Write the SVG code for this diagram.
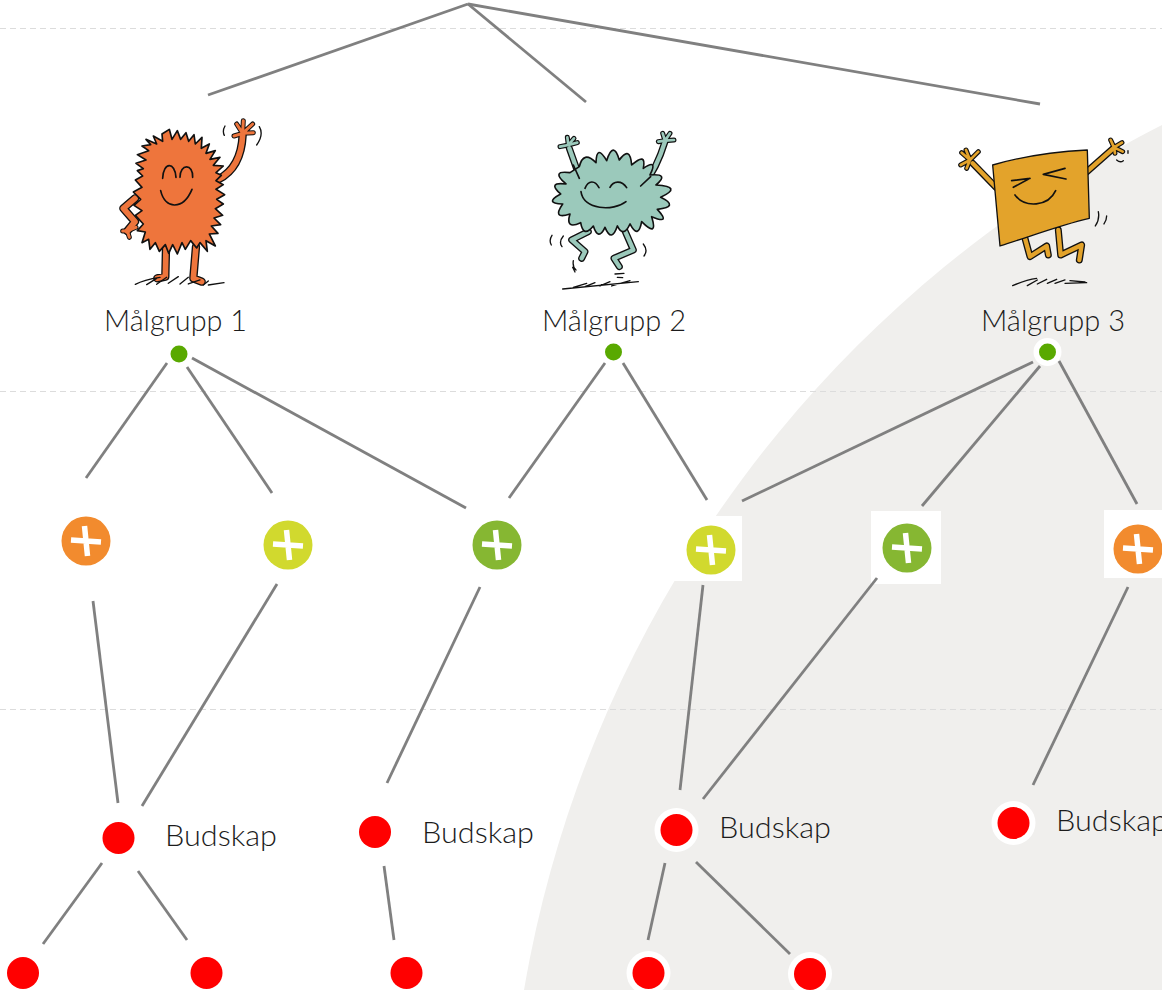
<svg xmlns="http://www.w3.org/2000/svg" xmlns:xlink="http://www.w3.org/1999/xlink" width="1162" height="990" viewBox="0 0 1162 990">
<style>
text{font-family:"Lato","Noto Sans","Liberation Sans",sans-serif;font-weight:300;font-size:30px;fill:#1c1c1c}
.guide{stroke:#dcdcdc;stroke-width:1.2;stroke-dasharray:6 4;fill:none}
#connectors line{stroke:#808080;stroke-width:2.8;stroke-linecap:butt}
.red{fill:#ff0000}.ring{fill:#fff}.dot{fill:#59a900}
.ink{fill:none;stroke:#111;stroke-width:5;stroke-linecap:round;stroke-linejoin:round}
.thin{stroke-width:4}
.limbO{fill:none;stroke:#111;stroke-width:25;stroke-linecap:round;stroke-linejoin:round}
.limbO2{fill:none;stroke:#111;stroke-width:21;stroke-linecap:round;stroke-linejoin:round}
.finO{fill:none;stroke:#111;stroke-width:15;stroke-linecap:round;stroke-linejoin:round}
.bodyline{stroke:#111;stroke-width:5;stroke-linejoin:round}
.plus{stroke:#fff;stroke-width:5.500;fill:none}
.soft{filter:url(#px)}
</style>
<defs>
<filter id="px" x="-10%" y="-10%" width="120%" height="120%"><feGaussianBlur stdDeviation=".7"/></filter>
<g id="plusmark"><path class="plus" d="M-15,-1 L15,1 M-1.5,-15 L1.5,15"/></g>
<g id="m1arms"><path d="M355,238 C400,215 425,170 428,105 M105,295 L70,325 L105,365 L82,393 M198,445 L196,530 L172,535 M288,440 L280,535 L305,545"/></g>
<g id="m1fingers"><path d="M428,100 L402,108 M428,100 L410,72 M428,100 L430,62 M428,100 L458,72 M428,100 L460,98 M82,393 L68,393 M82,393 L88,412 M82,393 L108,382"/></g>
<g id="m2arms"><path d="M150,205 L118,115 M340,225 C365,195 385,160 405,95 M175,365 L125,390 L165,425 L155,445 M275,340 L310,420 L252,445 L268,470"/></g>
<g id="m2fingers"><path d="M115,105 L90,110 M115,105 L112,82 M115,105 L132,85 M115,105 L142,98 M405,92 L385,95 M405,92 L398,70 M405,92 L420,70 M405,92 L432,90"/></g>
<g id="m3arms"><path d="M138,232 L68,160 M405,190 L490,115 M225,385 L240,440 L290,408 L295,435 M325,360 L332,435 L395,405 L388,450"/></g>
<g id="m3fingers"><path d="M60,150 L35,128 M60,150 L48,120 M60,150 L85,125 M60,150 L32,165 M60,150 L50,175 M492,112 L482,90 M492,112 L516,98 M492,112 L518,125 M492,112 L495,130"/></g>
</defs>
<rect width="1162" height="990" fill="#fff"/>
<circle id="backdrop" cx="1701.6" cy="1190.8" r="1194.6" fill="#f0efed"/>
<g id="guides">
<line class="guide" x1="0" y1="28.500" x2="1162" y2="28.500"/>
<line class="guide" x1="0" y1="391.500" x2="1162" y2="391.500"/>
<line class="guide" x1="0" y1="709.500" x2="1162" y2="709.500"/>
</g>
<g id="monster1" transform="translate(100 100) scale(.3333)">
<use href="#m1arms" class="limbO"/><use href="#m1fingers" class="finO"/>
<use href="#m1arms" fill="none" stroke="#ee753c" stroke-width="17" stroke-linecap="round" stroke-linejoin="round"/>
<use href="#m1fingers" fill="none" stroke="#ee753c" stroke-width="9" stroke-linecap="round"/>
<path class="bodyline" fill="#ee753c" d="M138,118 L170,132 L160,108 L188,124 L186,102 L208,88 L216,118 L232,92 L242,118 L258,98 L266,124 L282,104 L286,132 L306,112 L304,145 L328,132 L318,160 L346,152 L330,178 L360,172 L340,196 L370,198 L348,218 L364,226 L348,242 L370,254 L348,268 L374,284 L350,298 L370,312 L346,326 L368,346 L342,354 L362,374 L334,378 L354,400 L328,402 L346,438 L318,422 L322,454 L300,428 L290,444 L272,422 L256,448 L246,428 L232,462 L218,434 L206,460 L196,434 L178,454 L166,428 L150,448 L146,418 L126,428 L136,396 L112,392 L130,372 L106,346 L126,332 L102,316 L122,298 L100,276 L126,262 L106,240 L128,228 L112,212 L130,206 L108,190 L138,180 L112,164 L146,152 L126,138 L152,134 Z"/>
<path class="ink" d="M188,235 C190,185 225,185 228,232 M240,232 C240,190 280,190 278,232 M182,272 C195,330 250,330 276,268"/>
<path class="ink thin" d="M375,78 C368,90 370,100 373,106 M478,80 C490,100 482,118 470,135 M106,553 C130,540 160,535 180,532 M140,554 L170,535 M170,553 L200,532 M205,550 L235,530 M240,552 L265,532 M265,552 L300,540 M310,555 L325,543 M325,555 L372,548"/>
</g>
<g id="monster2" transform="translate(530 110) scale(.3333)">
<use href="#m2arms" class="limbO2"/><use href="#m2fingers" class="finO"/>
<use href="#m2arms" fill="none" stroke="#9bc9bb" stroke-width="13" stroke-linecap="round" stroke-linejoin="round"/>
<use href="#m2fingers" fill="none" stroke="#9bc9bb" stroke-width="8" stroke-linecap="round"/>
<path class="bodyline" fill="#9bc9bb" d="M148,170 Q160,120 198,158 Q200,100 230,152 Q250,90 268,150 Q300,105 305,165 Q350,125 340,175 Q385,145 360,195 Q420,190 378,225 Q460,230 392,262 Q450,290 382,298 Q425,345 365,320 Q385,385 335,335 Q325,390 300,342 Q280,385 262,348 Q245,400 225,352 Q205,395 190,348 Q160,385 152,338 Q105,360 120,312 Q65,330 98,282 Q40,280 92,252 Q50,215 108,222 Q60,180 120,188 Z"/>
<path class="ink" d="M165,235 C175,210 195,210 207,233 M240,232 C250,212 275,210 290,233 M153,245 C160,300 250,305 288,275"/>
<path class="ink" d="M130,165 L148,205 M332,228 L362,200"/>
<path class="ink thin" d="M66,376 C58,388 60,398 64,405 M100,378 C90,390 90,402 96,410 M130,452 C128,465 132,475 138,480 M128,472 L135,486 M340,402 C350,415 350,428 342,438 M255,492 L282,490 M262,502 L278,503 M98,537 L325,515 M130,532 L170,520 M165,530 L195,518 M210,528 L240,515 M245,528 L300,512"/>
</g>
<g id="monster3" transform="translate(950 110) scale(.3333)">
<use href="#m3arms" class="limbO2"/><use href="#m3fingers" class="finO"/>
<use href="#m3arms" fill="none" stroke="#e3a32b" stroke-width="13" stroke-linecap="round" stroke-linejoin="round"/>
<use href="#m3fingers" fill="none" stroke="#e3a32b" stroke-width="8" stroke-linecap="round"/>
<path fill="#e3a32b" stroke="#111" stroke-width="4" stroke-linejoin="round" d="M128,165 C220,138 320,125 412,120 L418,325 C330,345 240,380 150,408 Z"/>
<path class="ink" d="M240,205 L185,212 M240,205 L190,232 M280,193 L345,175 M280,193 L348,207 M195,255 C225,295 295,290 317,242"/>
<path class="ink thin" d="M445,305 C448,320 445,335 436,348 M470,318 C470,328 466,336 462,342 M500,150 C508,157 515,156 520,152 M534,122 L534,130 M188,527 C215,515 235,508 260,505 M232,527 L262,510 M262,522 L290,508 M292,520 L320,508 M315,520 L345,510 M345,520 L410,518 M360,512 L405,516"/>
</g>
<g id="label1"><text x="104" y="331" textLength="143" lengthAdjust="spacingAndGlyphs">Målgrupp 1</text></g>
<g id="label2"><text x="542" y="331" textLength="144" lengthAdjust="spacingAndGlyphs">Målgrupp 2</text></g>
<g id="label3"><text x="981" y="331" textLength="144" lengthAdjust="spacingAndGlyphs">Målgrupp 3</text></g>
<g id="dot1"><circle class="dot" cx="179" cy="354" r="8.500"/></g>
<g id="dot2"><circle class="dot" cx="613.500" cy="352" r="8.500"/></g>
<g id="dot3"><circle class="ring" cx="1047.500" cy="352" r="14"/><circle class="dot" cx="1047.500" cy="352" r="8.500"/></g>
<g id="plus1"><g class="soft"><circle cx="86" cy="541" r="24.500" fill="#f28b2d"/><use href="#plusmark" x="86" y="541"/></g></g>
<g id="plus2"><g class="soft"><circle cx="288" cy="545" r="24.500" fill="#d1d92e"/><use href="#plusmark" x="288" y="545"/></g></g>
<g id="plus3"><g class="soft"><circle cx="497" cy="545" r="24.500" fill="#86b733"/><use href="#plusmark" x="497" y="545"/></g></g>
<g id="plus4"><rect x="670" y="516" width="72" height="65" fill="#fff"/><g class="soft"><circle cx="711" cy="550" r="24.500" fill="#d1d92e"/><use href="#plusmark" x="711" y="550"/></g></g>
<g id="plus5"><rect x="871" y="511" width="70" height="73" fill="#fff"/><g class="soft"><circle cx="907" cy="548" r="24.500" fill="#86b733"/><use href="#plusmark" x="907" y="548"/></g></g>
<g id="plus6"><rect x="1104" y="510" width="58" height="68" fill="#fff"/><g class="soft"><circle cx="1138" cy="549" r="24.500" fill="#f28b2d"/><use href="#plusmark" x="1138" y="549"/></g></g>
<g id="connectors">
<line x1="468" y1="4" x2="208" y2="95"/><line x1="468" y1="4" x2="586" y2="102"/><line x1="468" y1="4" x2="1040" y2="104"/>
<line x1="167" y1="363" x2="86" y2="478"/><line x1="187" y1="367" x2="272" y2="493"/><line x1="192" y1="358" x2="466" y2="508"/>
<line x1="605" y1="363" x2="509" y2="498"/><line x1="623" y1="363" x2="707" y2="500"/>
<line x1="1033" y1="362" x2="742" y2="501"/><line x1="1040" y1="366" x2="922" y2="506"/><line x1="1059" y1="361" x2="1137" y2="504"/>
<line x1="93" y1="601" x2="118" y2="803"/><line x1="277" y1="584" x2="142" y2="806"/><line x1="480" y1="587" x2="387" y2="783"/>
<line x1="703" y1="585" x2="680" y2="790"/><line x1="877" y1="578" x2="703" y2="799"/><line x1="1128" y1="587" x2="1033" y2="785"/>
<line x1="102" y1="863" x2="43" y2="944"/><line x1="138" y1="871" x2="187" y2="940"/><line x1="384" y1="866" x2="394" y2="940"/>
<line x1="665" y1="863" x2="648" y2="940"/><line x1="696" y1="862" x2="790" y2="954"/>
</g>
<g id="msg1"><circle class="red" cx="118.500" cy="838" r="16"/><text x="165" y="846" textLength="112" lengthAdjust="spacingAndGlyphs">Budskap</text></g>
<g id="msg2"><circle class="red" cx="375" cy="832" r="16"/><text x="422" y="843" textLength="112" lengthAdjust="spacingAndGlyphs">Budskap</text></g>
<g id="msg3"><circle class="ring" cx="676.500" cy="830" r="22"/><circle class="red" cx="676.500" cy="830" r="16"/><text x="719" y="838" textLength="112" lengthAdjust="spacingAndGlyphs">Budskap</text></g>
<g id="msg4"><circle class="ring" cx="1013.500" cy="823" r="22"/><circle class="red" cx="1013.500" cy="823" r="16"/><text x="1056" y="831" textLength="112" lengthAdjust="spacingAndGlyphs">Budskap</text></g>
<g id="leaf1"><circle class="red" cx="23" cy="973" r="16"/></g>
<g id="leaf2"><circle class="red" cx="206.500" cy="973" r="16"/></g>
<g id="leaf3"><circle class="red" cx="406.500" cy="973" r="16"/></g>
<g id="leaf4"><circle class="ring" cx="648.500" cy="973" r="22"/><circle class="red" cx="648.500" cy="973" r="16"/></g>
<g id="leaf5"><circle class="ring" cx="810" cy="974" r="22"/><circle class="red" cx="810" cy="974" r="16"/></g>
</svg>
